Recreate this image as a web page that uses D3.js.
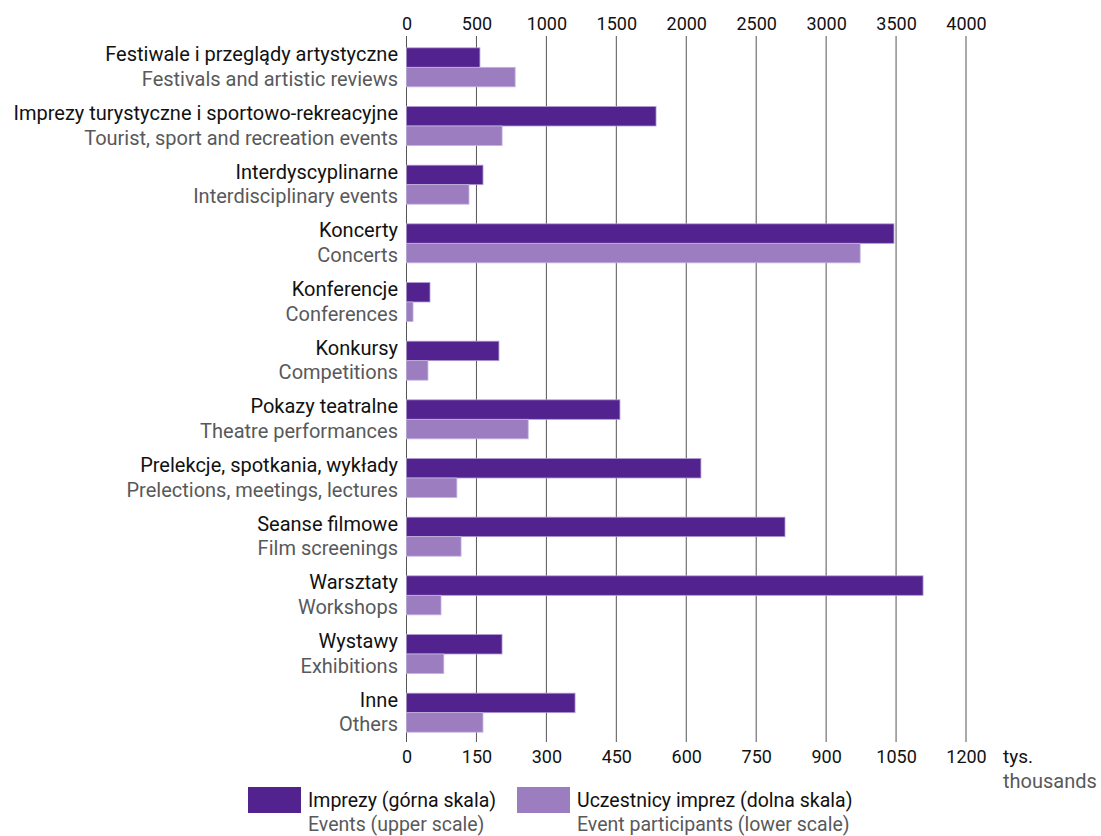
<!DOCTYPE html>
<html>
<head>
<meta charset="utf-8">
<script src="https://cdn.jsdelivr.net/npm/d3@7"></script>
<style>
  html, body { margin: 0; padding: 0; background: #fff; }
  svg { display: block; font-family: Roboto, "Open Sans", sans-serif; }
</style>
</head>
<body>
<div id="chart"></div>
<script>
// Categories (Polish / English)
const labelsPl = [
  'Festiwale i przeglądy artystyczne',
  'Imprezy turystyczne i sportowo-rekreacyjne',
  'Interdyscyplinarne',
  'Koncerty',
  'Konferencje',
  'Konkursy',
  'Pokazy teatralne',
  'Prelekcje, spotkania, wykłady',
  'Seanse filmowe',
  'Warsztaty',
  'Wystawy',
  'Inne'
];
const labelsEn = [
  'Festivals and artistic reviews',
  'Tourist, sport and recreation events',
  'Interdisciplinary events',
  'Concerts',
  'Conferences',
  'Competitions',
  'Theatre performances',
  'Prelections, meetings, lectures',
  'Film screenings',
  'Workshops',
  'Exhibitions',
  'Others'
];

// Events (upper scale)
const events = [525, 1784, 547, 3485, 168, 661, 1526, 2105, 2706, 3693, 683, 1205];
// Event participants, thousands (lower scale)
const participants = [233, 205, 134, 973, 14, 46, 261, 108, 117, 74, 80, 164];

const topTicks = [0, 500, 1000, 1500, 2000, 2500, 3000, 3500, 4000];
const bottomTicks = [0, 150, 300, 450, 600, 750, 900, 1050, 1200];

const W = 1101, H = 836;
const left = 406.5, right = 966;
const gridTop = 36, gridBottom = 742;

const dark = '#52238f';
const light = '#9b7dc0';
const grey = '#58595b';

const svg = d3.select('#chart').append('svg')
  .attr('width', W)
  .attr('height', H);

const xTop = d3.scaleLinear().domain([0, 4000]).range([left, right]);
const xBot = d3.scaleLinear().domain([0, 1200]).range([left, right]);
const y = d3.scaleBand().domain(d3.range(labelsPl.length)).range([38, 742]);
const barH = 19.5;

// ── Gridlines ────────────────────────────────────────────────────────────
svg.append('g')
  .selectAll('line')
  .data(topTicks)
  .join('line')
  .attr('x1', d => xTop(d)).attr('x2', d => xTop(d))
  .attr('y1', gridTop).attr('y2', gridBottom)
  .attr('stroke', '#555')
  .attr('stroke-width', 1);

// ── Axes ─────────────────────────────────────────────────────────────────
svg.append('g')
  .attr('transform', 'translate(0,30)')
  .call(d3.axisTop(xTop).tickValues(topTicks).tickSize(0).tickPadding(0).tickFormat(d3.format('d')))
  .call(ax => ax.select('.domain').remove())
  .call(ax => ax.selectAll('text')
    .attr('y', 0).attr('dy', 0)
    .attr('fill', '#111')
    .style('font-family', 'Roboto, sans-serif')
    .style('font-size', '18px'));

svg.append('g')
  .attr('transform', 'translate(0,763)')
  .call(d3.axisBottom(xBot).tickValues(bottomTicks).tickSize(0).tickPadding(0).tickFormat(d3.format('d')))
  .call(ax => ax.select('.domain').remove())
  .call(ax => ax.selectAll('text')
    .attr('y', 0).attr('dy', 0)
    .attr('fill', '#111')
    .style('font-family', 'Roboto, sans-serif')
    .style('font-size', '18px'));

svg.append('text')
  .attr('x', 1003).attr('y', 763)
  .attr('fill', '#111').style('font-size', '19px')
  .text('tys.');
svg.append('text')
  .attr('x', 1003).attr('y', 788)
  .attr('fill', grey).style('font-size', '20px')
  .text('thousands');

// ── Bars ─────────────────────────────────────────────────────────────────
const rows = svg.append('g')
  .selectAll('g')
  .data(d3.range(labelsPl.length))
  .join('g')
  .attr('transform', i => `translate(0,${y(i) + y.bandwidth() / 2})`);

rows.append('rect')
  .attr('x', xTop(0))
  .attr('y', -barH)
  .attr('width', i => xTop(events[i]) - xTop(0))
  .attr('height', barH)
  .attr('fill', dark)
  .attr('stroke', '#b29fd4')
  .attr('stroke-width', 0.8);

rows.append('rect')
  .attr('x', xBot(0))
  .attr('y', 0)
  .attr('width', i => xBot(participants[i]) - xBot(0))
  .attr('height', barH)
  .attr('fill', light)
  .attr('stroke', '#c3b3e0')
  .attr('stroke-width', 0.8);

// ── Category labels ──────────────────────────────────────────────────────
rows.append('text')
  .attr('x', 398)
  .attr('y', -6)
  .attr('text-anchor', 'end')
  .attr('fill', '#111')
  .style('font-size', '20px')
  .text(i => labelsPl[i]);

rows.append('text')
  .attr('x', 398)
  .attr('y', 18.5)
  .attr('text-anchor', 'end')
  .attr('fill', grey)
  .style('font-size', '20px')
  .text(i => labelsEn[i]);

// ── Legend ───────────────────────────────────────────────────────────────
const legend = [
  { x: 248, color: dark, pl: 'Imprezy (górna skala)', en: 'Events (upper scale)' },
  { x: 517, color: light, pl: 'Uczestnicy imprez (dolna skala)', en: 'Event participants (lower scale)' }
];

const lg = svg.append('g')
  .selectAll('g')
  .data(legend)
  .join('g')
  .attr('transform', d => `translate(${d.x},787)`);

lg.append('rect')
  .attr('width', 53).attr('height', 26)
  .attr('fill', d => d.color);

lg.append('text')
  .attr('x', 60).attr('y', 20)
  .attr('fill', '#111').style('font-size', '19.5px')
  .text(d => d.pl);

lg.append('text')
  .attr('x', 60).attr('y', 44)
  .attr('fill', grey).style('font-size', '19.5px')
  .text(d => d.en);
</script>
</body>
</html>
